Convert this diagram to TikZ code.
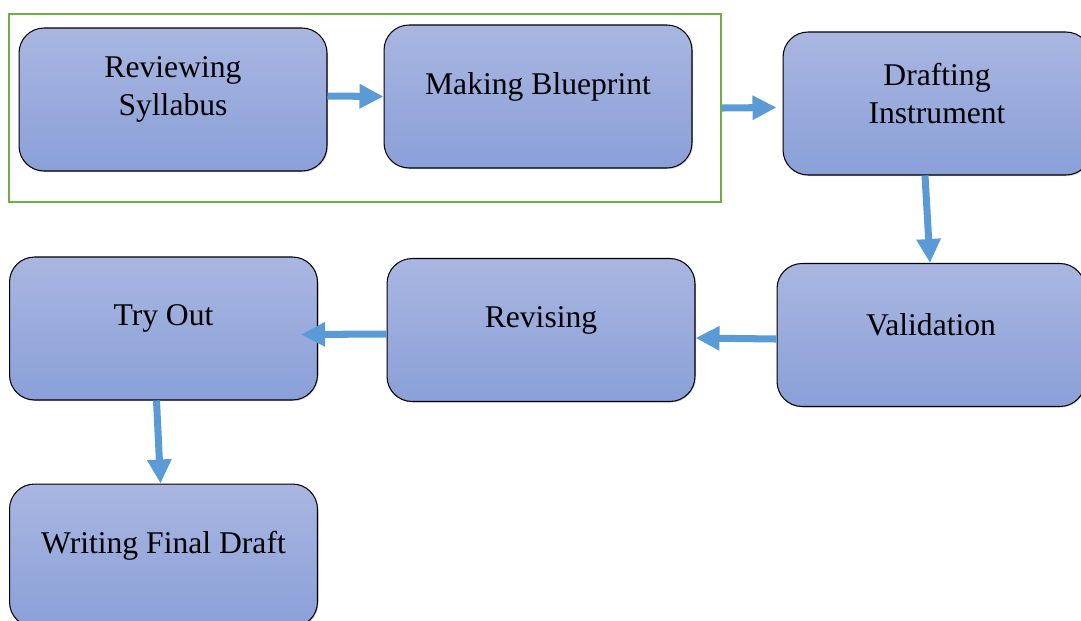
\documentclass[tikz,border=0pt]{standalone}
\usepackage{fontspec}
\setmainfont{Liberation Serif}
\usepackage{tikz}
\usetikzlibrary{arrows.meta, shadows}
\usepackage{xcolor}
\definecolor{boxtop}{HTML}{A9B6E1}
\definecolor{boxbottom}{HTML}{8AA0D8}
\definecolor{flowblue}{HTML}{5B9BD5}
\definecolor{framegreen}{HTML}{70AD47}

\tikzset{
    stagebox/.style={rounded corners=0.5cm, draw=black, line width=0.6pt,
        top color=boxtop, bottom color=boxbottom,
        minimum width=6.16cm, minimum height=2.86cm,
        drop shadow={opacity=0.35, shadow xshift=0.6pt, shadow yshift=-0.6pt}},
    stagetext/.style={align=center, font=\fontsize{18}{21.6}\selectfont, yshift=0.2cm},
    flow/.style={draw=flowblue, line width=4pt,
        -{Triangle[length=0.48cm, width=0.46cm]}}
}

\begin{document}
\begin{tikzpicture}[x=0.02cm, y=-0.02cm]
        \useasboundingbox (0,0) rectangle (1081,620);
        \clip (0,0) rectangle (1081,620);

        % stages
        \node[stagebox] (syllabus) at (173,99.5) {};
        \node[stagebox] (blueprint) at (538,96.5) {};
        \node[stagebox] (drafting) at (937,103.5) {};
        \node[stagebox] (validation) at (931,335) {};
        \node[stagebox] (revising) at (541,330) {};
        \node[stagebox] (tryout) at (163.5,328.5) {};
        \node[stagebox] (final) at (163.5,555.5) {};

        \node[stagetext] (syllabustext) at (syllabus.center) {Reviewing\\Syllabus};
        \node[stagetext] (blueprinttext) at (blueprint.center) {Making Blueprint};
        \node[stagetext] (draftingtext) at (drafting.center) {Drafting\\Instrument};
        \node[stagetext] (validationtext) at (validation.center) {Validation};
        \node[stagetext] (revisingtext) at (revising.center) {Revising};
        \node[stagetext] (tryouttext) at (tryout.center) {Try Out};
        \node[stagetext] (finaltext) at (final.center) {Writing Final Draft};

        % planning group
        \node[draw=framegreen, line width=1.2pt, minimum width=14.24cm, minimum height=3.76cm] (planning) at (365,108) {};

        % flow
        \draw[flow] ([yshift=0.07cm]syllabus.east) -- (blueprint.west);
        \draw[flow] (planning.east) -- ([xshift=-0.12cm, yshift=-0.08cm]drafting.west);
        \draw[flow] ([xshift=-0.24cm]drafting.south) -- ([xshift=-0.02cm]validation.north);
        \draw[flow] ([yshift=-0.08cm]validation.west) -- ([yshift=-0.16cm]revising.east);
        \draw[flow] ([yshift=-0.08cm]revising.west) -- ([xshift=-0.34cm, yshift=-0.12cm]tryout.east);
        \draw[flow] ([xshift=-0.14cm]tryout.south) -- ([xshift=-0.06cm]final.north);
    \end{tikzpicture}
\end{document}
